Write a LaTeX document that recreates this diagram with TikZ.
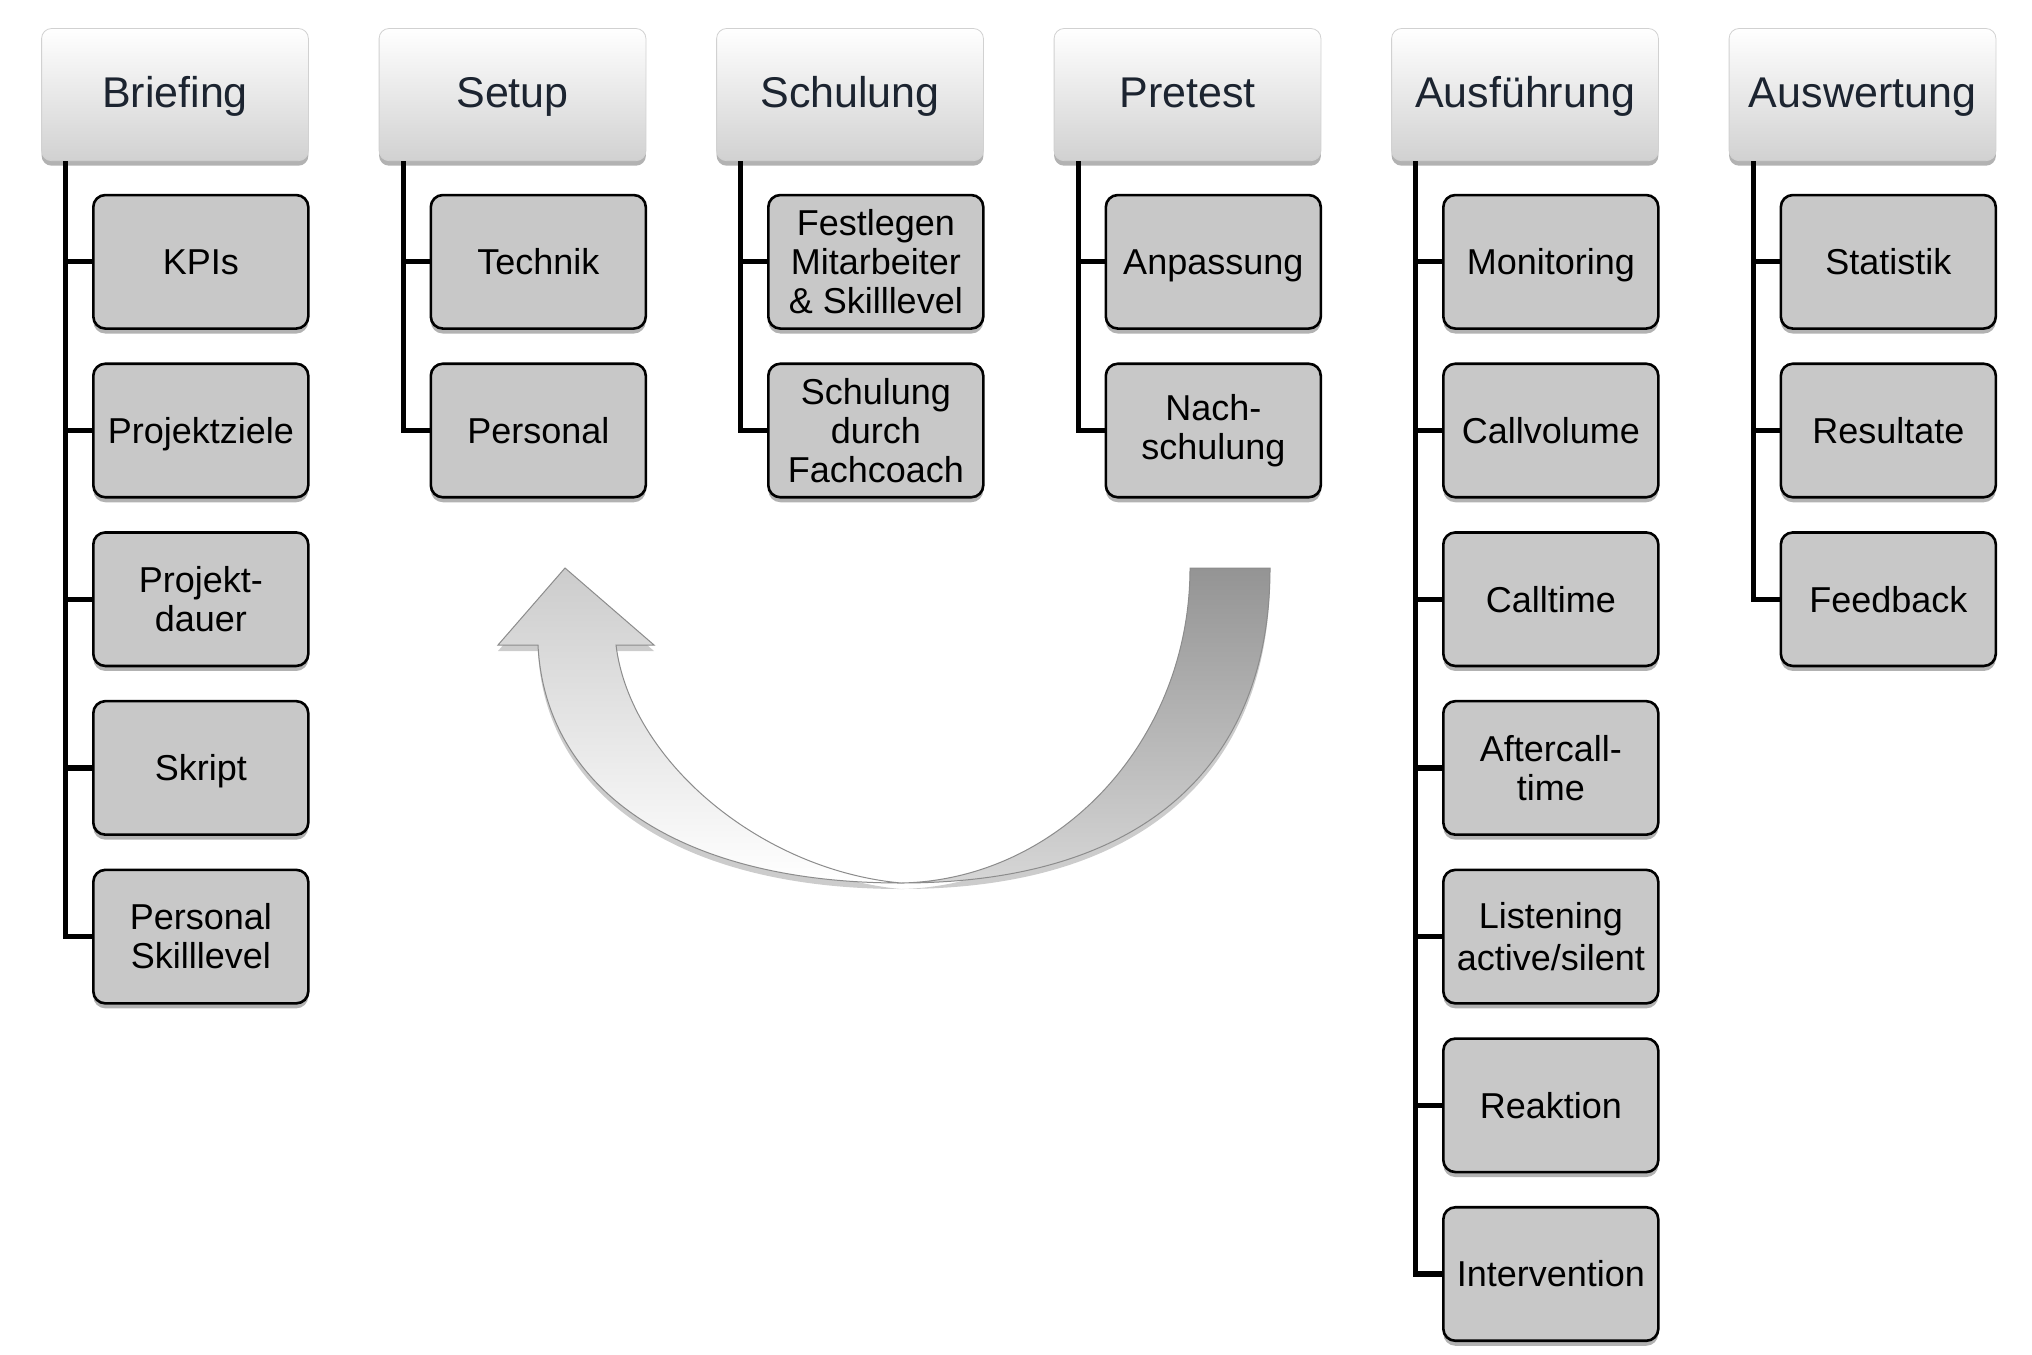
\documentclass[tikz,border=0pt]{standalone}
\usepackage{fontspec}
\setmainfont{Liberation Sans}
\usetikzlibrary{shadows,calc}
\definecolor{hdrtext}{HTML}{1C2430}
\definecolor{childfill}{HTML}{C8C8C8}
\tikzset{
  hdr/.style={rectangle, rounded corners=5pt, minimum width=133.4pt, minimum height=66.1pt,
    inner sep=0pt, top color=white, bottom color=black!18, draw=black!18, line width=0.4pt,
    text=hdrtext, font=\fontsize{21.5pt}{24pt}\selectfont, text height=15.4pt, text depth=2.6pt,
    drop shadow={shadow xshift=0pt, shadow yshift=-2.5pt, opacity=0.3, fill=black}},
  child/.style={rectangle, rounded corners=6pt, minimum width=107.5pt, minimum height=66.75pt,
    inner sep=0pt, fill=childfill, draw=black, line width=1.3pt, align=center,
    font=\fontsize{18pt}{19.5pt}\selectfont,
    drop shadow={shadow xshift=0pt, shadow yshift=-2.5pt, opacity=0.3, fill=black}},
  one/.style={text height=12.9pt, text depth=0pt},
  conn/.style={draw=black, line width=2.6pt, line join=miter},
  band/.style={draw=black!45, line width=0.5pt,
    drop shadow={shadow xshift=0pt, shadow yshift=-3pt, opacity=0.2, fill=black}}
}
\begin{document}
\begin{tikzpicture}[x=0.5pt, y=-0.5pt]
\useasboundingbox (0,0) rectangle (2032,1354);
\fill[white] (0,0) rectangle (2032,1354);

% curved arrow
\path[band, top color=black!42, bottom color=black!16]
  (1270,568) .. controls (1270,760) and (1150,883) .. (901,883)
  .. controls (1060,880) and (1190,740) .. (1190,568) -- cycle;
\path[band, top color=black!20, bottom color=white]
  (565,568) -- (654,645) -- (616,645)
  .. controls (630,760) and (760,870) .. (901,883)
  .. controls (680,883) and (545,790) .. (538,645)
  -- (498,645) -- cycle;

% headers
\node[hdr] (h1) at (175,94.6) {Briefing};
\node[hdr] (h2) at (512.5,94.6) {Setup};
\node[hdr] (h3) at (850,94.6) {Schulung};
\node[hdr] (h4) at (1187.5,94.6) {Pretest};
\node[hdr] (h5) at (1525,94.6) {Ausführung};
\node[hdr] (h6) at (1862.5,94.6) {Auswertung};

% column 1
\node[child, one] (c11) at (200.8,261.8) {KPIs};
\node[child, one] (c12) at (200.8,430.5) {Projektziele};
\node[child] (c13) at (200.8,599.2) {Projekt-\\dauer};
\node[child, one] (c14) at (200.8,767.9) {Skript};
\node[child] (c15) at (200.8,936.6) {Personal\\Skilllevel};
% column 2
\node[child, one] (c21) at (538.3,261.8) {Technik};
\node[child, one] (c22) at (538.3,430.5) {Personal};
% column 3
\node[child] (c31) at (875.8,261.8) {Festlegen\\Mitarbeiter\\\& Skilllevel};
\node[child] (c32) at (875.8,430.5) {Schulung\\durch\\Fachcoach};
% column 4
\node[child, one] (c41) at (1213.3,261.8) {Anpassung};
\node[child] (c42) at (1213.3,430.5) {Nach-\\schulung};
% column 5
\node[child, one] (c51) at (1550.8,261.8) {Monitoring};
\node[child, one] (c52) at (1550.8,430.5) {Callvolume};
\node[child, one] (c53) at (1550.8,599.2) {Calltime};
\node[child] (c54) at (1550.8,767.9) {Aftercall-\\time};
\node[child, font=\fontsize{18pt}{21pt}\selectfont] (c55) at (1550.8,936.6) {Listening\\active/silent};
\node[child, one] (c56) at (1550.8,1105.3) {Reaktion};
\node[child, one] (c57) at (1550.8,1274) {Intervention};
% column 6
\node[child, one] (c61) at (1888.3,261.8) {Statistik};
\node[child, one] (c62) at (1888.3,430.5) {Resultate};
\node[child, one] (c63) at (1888.3,599.2) {Feedback};

% connectors
\foreach \h/\c in {h1/c11,h1/c12,h1/c13,h1/c14,h1/c15,
                   h2/c21,h2/c22,
                   h3/c31,h3/c32,
                   h4/c41,h4/c42,
                   h5/c51,h5/c52,h5/c53,h5/c54,h5/c55,h5/c56,h5/c57,
                   h6/c61,h6/c62,h6/c63}{
  \draw[conn] ([xshift=12.25pt]\h.south west) |- (\c.west);
}
\end{tikzpicture}
\end{document}
